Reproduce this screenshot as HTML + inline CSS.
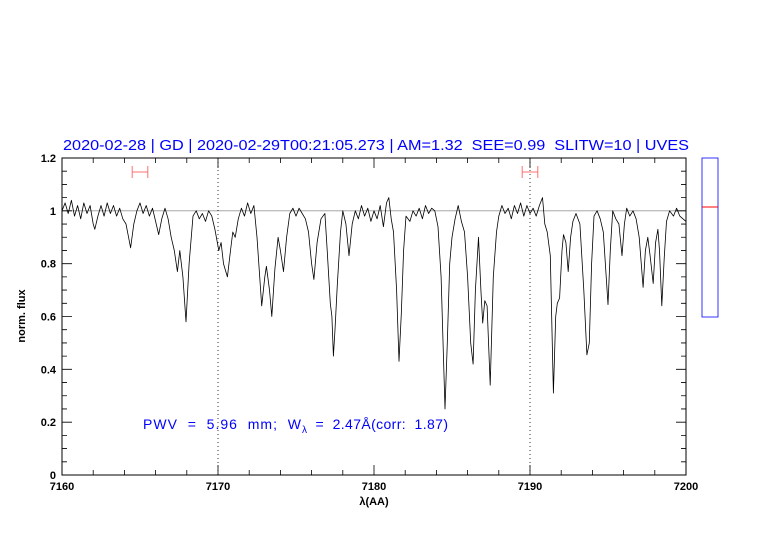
<!DOCTYPE html>
<html><head><meta charset="utf-8"><style>
body{margin:0;background:#fff;}
svg{display:block;font-family:"Liberation Sans",sans-serif;}
text{white-space:pre;}
</style></head><body>
<svg id="chart" width="782" height="542" xmlns="http://www.w3.org/2000/svg">
<text x="376" y="150" text-anchor="middle" font-size="14.5" fill="#0000ff" textLength="626" lengthAdjust="spacingAndGlyphs">2020-02-28 | GD | 2020-02-29T00:21:05.273 | AM=1.32  SEE=0.99  SLITW=10 | UVES</text>
<text transform="translate(25,316) rotate(-90)" text-anchor="middle" font-size="11" font-weight="bold" fill="#000">norm. flux</text>
<text x="374" y="505" text-anchor="middle" font-size="11" font-weight="bold" fill="#000">λ(AA)</text>
<text x="143" y="429" font-size="14" fill="#0000ff"><tspan textLength="158" lengthAdjust="spacing">PWV  =  5.96  mm;  W</tspan><tspan font-size="10" dy="4">λ</tspan><tspan dy="-4" textLength="141" lengthAdjust="spacing">  =  2.47Å(corr:  1.87)</tspan></text>
<rect x="702" y="158" width="16" height="159" fill="none" stroke="#0000ff" stroke-width="0.8"/>
<line x1="702" x2="718" y1="207" y2="207" stroke="#ff0000" stroke-width="1"/>
<g id="axes"></g>
</svg>
<script>
const waves=[7160.0,7160.2,7160.4,7160.6,7160.8,7161.0,7161.2,7161.4,7161.6,7161.8,7162.0,7162.1,7162.3,7162.5,7162.7,7162.9,7163.1,7163.3,7163.5,7163.7,7163.9,7164.1,7164.4,7164.6,7164.8,7165.0,7165.2,7165.4,7165.6,7165.8,7166.0,7166.2,7166.4,7166.6,7166.8,7167.0,7167.2,7167.4,7167.55,7167.75,7167.95,7168.15,7168.4,7168.6,7168.8,7169.0,7169.2,7169.4,7169.6,7169.8,7170.05,7170.2,7170.35,7170.6,7170.8,7170.95,7171.1,7171.3,7171.5,7171.7,7171.9,7172.1,7172.3,7172.5,7172.8,7173.0,7173.1,7173.3,7173.45,7173.65,7173.85,7174.0,7174.2,7174.4,7174.6,7174.8,7175.0,7175.2,7175.4,7175.6,7175.8,7176.0,7176.15,7176.35,7176.6,7176.85,7177.0,7177.2,7177.3,7177.4,7177.5,7177.65,7177.85,7178.0,7178.2,7178.4,7178.6,7178.8,7179.0,7179.2,7179.4,7179.6,7179.8,7180.0,7180.2,7180.4,7180.6,7180.8,7180.95,7181.1,7181.25,7181.45,7181.6,7181.75,7181.9,7182.05,7182.3,7182.5,7182.7,7182.9,7183.1,7183.3,7183.5,7183.7,7183.9,7184.1,7184.3,7184.55,7184.7,7184.85,7185.0,7185.2,7185.4,7185.6,7185.8,7186.0,7186.2,7186.35,7186.5,7186.7,7186.85,7186.97,7187.1,7187.25,7187.45,7187.65,7187.85,7188.0,7188.2,7188.4,7188.6,7188.8,7189.0,7189.2,7189.4,7189.6,7189.8,7190.0,7190.2,7190.4,7190.6,7190.8,7190.95,7191.1,7191.3,7191.5,7191.65,7191.75,7191.9,7192.05,7192.15,7192.3,7192.45,7192.6,7192.75,7192.95,7193.2,7193.45,7193.65,7193.8,7193.95,7194.1,7194.3,7194.5,7194.7,7195.0,7195.15,7195.3,7195.5,7195.7,7195.9,7196.05,7196.2,7196.4,7196.6,7196.8,7197.0,7197.25,7197.4,7197.55,7197.7,7197.9,7198.05,7198.2,7198.3,7198.45,7198.6,7198.75,7198.95,7199.2,7199.4,7199.6,7199.8,7200.0];
const flux=[1.00,1.03,0.99,1.04,0.98,1.02,0.97,1.03,0.99,1.02,0.95,0.93,0.98,1.02,0.98,1.03,0.99,1.02,0.98,1.01,0.97,0.95,0.86,0.95,1.00,1.03,0.99,1.02,0.98,1.01,0.96,0.91,0.97,1.01,0.97,0.90,0.85,0.77,0.85,0.75,0.58,0.80,0.98,1.00,0.97,0.99,0.96,1.00,0.98,0.93,0.85,0.88,0.80,0.75,0.85,0.92,0.90,0.97,1.01,0.98,1.03,0.99,1.02,0.90,0.64,0.75,0.79,0.70,0.60,0.78,0.90,0.85,0.77,0.90,0.99,1.01,0.98,1.01,0.99,0.97,0.92,0.80,0.74,0.88,0.97,0.99,0.85,0.65,0.60,0.45,0.55,0.72,0.92,1.00,0.95,0.83,0.95,1.00,0.97,1.02,0.98,1.01,0.96,1.00,0.97,1.02,0.94,1.03,1.05,0.97,0.92,0.70,0.43,0.61,0.85,0.98,0.96,1.00,0.98,1.01,0.97,1.02,0.99,1.01,1.00,0.94,0.75,0.25,0.50,0.80,0.90,0.97,1.02,0.96,0.92,0.75,0.50,0.42,0.70,0.90,0.70,0.575,0.66,0.64,0.34,0.75,0.92,0.98,1.02,0.99,1.01,0.97,1.02,0.99,1.03,0.98,1.02,0.99,1.01,0.98,1.02,1.05,0.95,0.92,0.83,0.31,0.60,0.65,0.67,0.85,0.91,0.88,0.77,0.90,0.96,0.99,0.95,0.70,0.455,0.50,0.80,0.98,1.00,0.97,0.92,0.645,0.85,1.00,0.97,0.95,0.83,0.95,1.01,0.98,1.00,0.97,0.90,0.71,0.85,0.90,0.83,0.725,0.88,0.93,0.85,0.64,0.82,0.96,1.00,0.98,1.01,0.98,0.97,0.96];
const xTicks=[7160,7170,7180,7190,7200];
const yTicks=[0,0.2,0.4,0.6,0.8,1,1.2];
const yTickLabels=["0","0.2","0.4","0.6","0.8","1","1.2"];
const markedWaves=[7170,7190];
const errBars=[[7164.5,7165.5],[7189.5,7190.5]];

const X0=62,X1=686,Y0=475,Y1=158;
const xs=v=>X0+(v-7160)/40*(X1-X0);
const ys=v=>Y0-v/1.2*(Y0-Y1);
const NS="http://www.w3.org/2000/svg";
const g=document.getElementById('axes');
function mk(tag,attrs){const e=document.createElementNS(NS,tag);for(const k in attrs)e.setAttribute(k,attrs[k]);g.appendChild(e);return e;}

let e=mk('line',{x1:X0,x2:X1,y1:ys(1),y2:ys(1),stroke:'#999','stroke-width':0.8});


markedWaves.forEach(w=>{
  const l=mk('line',{x1:xs(w),x2:xs(w),y1:Y1,y2:Y0,stroke:'#000','stroke-width':0.8,'stroke-dasharray':'1,3'});
  
  
});
errBars.forEach(b=>{
  const p=mk('path',{d:`M${xs(b[0])},${166}V${178}M${xs(b[1])},${166}V${178}M${xs(b[0])},172H${xs(b[1])}`,stroke:'#ff7070','stroke-width':1,fill:'none'});
  
  
});
let d='';
waves.forEach((w,i)=>{d+=(i?'L':'M')+xs(w).toFixed(1)+','+ys(flux[i]).toFixed(1);});
const sp=mk('path',{d:d,stroke:'#000','stroke-width':0.8,fill:'none','stroke-linejoin':'round'});



const fr=mk('rect',{x:X0,y:Y1,width:X1-X0,height:Y0-Y1,fill:'none',stroke:'#000','stroke-width':1});


let td='';
for(let v=7160;v<=7200;v+=2){const x=xs(v),L=(v%10===0)?10:5;td+=`M${x},${Y0}v${-L}M${x},${Y1}v${L}`;}
for(let k=0;k<=24;k++){const y=ys(k*0.05),L=(k%4===0)?10:5;td+=`M${X0},${y}h${L}M${X1},${y}h${-L}`;}
const tk=mk('path',{d:td,stroke:'#000','stroke-width':0.8,fill:'none'});


xTicks.forEach(v=>{
  const t=mk('text',{x:xs(v),y:490,'text-anchor':'middle','font-size':11,'font-weight':'bold'});
  t.textContent=v;
  
  
});
yTicks.forEach((v,i)=>{
  const t=mk('text',{x:56,y:ys(v)+4,'text-anchor':'end','font-size':11,'font-weight':'bold'});
  t.textContent=yTickLabels[i];
  
  
});
</script>
</body></html>
